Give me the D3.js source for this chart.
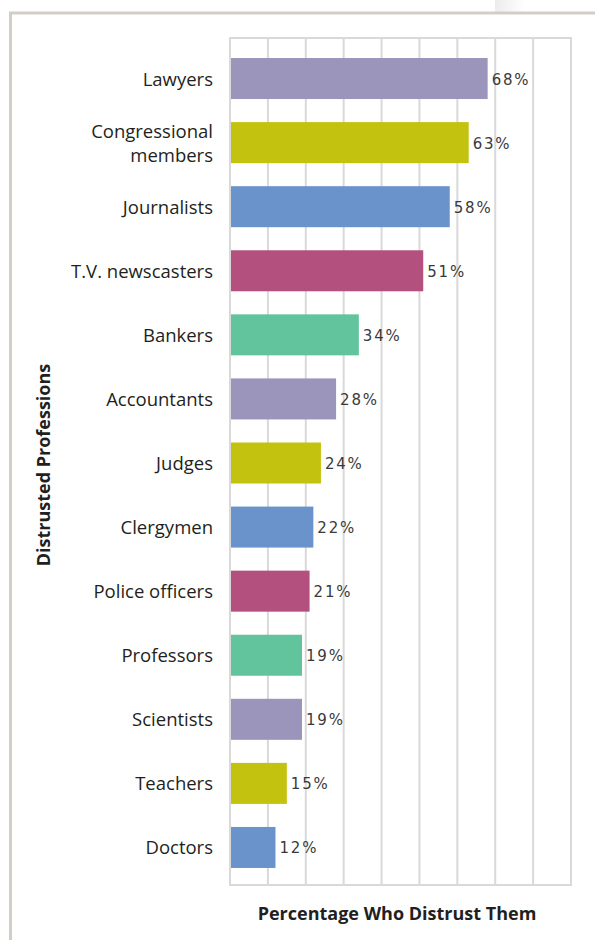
<!DOCTYPE html>
<html><head><meta charset="utf-8">
<script src="https://cdn.jsdelivr.net/npm/d3@7"></script>
<style>body{margin:0;background:#fff}svg{display:block}</style>
</head><body>
<svg id="c" width="595" height="940"></svg>
<script>
const categories = ["Lawyers","Congressional\nmembers","Journalists","T.V. newscasters","Bankers","Accountants","Judges","Clergymen","Police officers","Professors","Scientists","Teachers","Doctors"];
const values = [68,63,58,51,34,28,24,22,21,19,19,15,12];
const colors = ["#9b94bb","#c3c20e","#6a93cc","#b3507e","#62c49c"];
const xTicks = [0,10,20,30,40,50,60,70,80,90];
const xTitle = "Percentage Who Distrust Them";
const yTitle = "Distrusted Professions";

const svg = d3.select("#c");
// frame
const defs = svg.append("defs");
const g = defs.append("linearGradient").attr("id","pg");
g.append("stop").attr("offset","0").attr("stop-color","#ececec");
g.append("stop").attr("offset","1").attr("stop-color","#ffffff");
svg.append("rect").attr("x",495).attr("y",0).attr("width",30).attr("height",12).attr("fill","url(#pg)");
svg.append("path").attr("d","M10.5,940 V13 H595").attr("fill","none").attr("stroke","#d3cdc8").attr("stroke-width",3);

const x = d3.scaleLinear().domain([0,90]).range([230,571]);
const y = d3.scaleBand().domain(categories).range([46.5,879.5]).paddingInner(0.36).paddingOuter(0.18);
const plotTop = 38, plotBottom = 885;

// grid
svg.append("g").selectAll("line").data(xTicks).join("line")
  .attr("x1",d=>x(d)).attr("x2",d=>x(d)).attr("y1",plotTop).attr("y2",plotBottom)
  .attr("stroke","#d9d9d9").attr("stroke-width",2);
svg.append("line").attr("x1",229).attr("x2",572).attr("y1",plotTop).attr("y2",plotTop).attr("stroke","#d9d9d9").attr("stroke-width",2);
svg.append("line").attr("x1",229).attr("x2",572).attr("y1",plotBottom).attr("y2",plotBottom).attr("stroke","#d9d9d9").attr("stroke-width",2);

// bars
svg.append("g").selectAll("rect").data(categories).join("rect")
  .attr("x",x(0)+1).attr("y",d=>y(d)).attr("height",y.bandwidth())
  .attr("width",(d,i)=>x(values[i])-x(0)-1)
  .attr("fill",(d,i)=>colors[i%5]);

// value labels
svg.append("g").selectAll("text").data(categories).join("text")
  .attr("x",(d,i)=>x(values[i])+4).attr("y",d=>y(d)+y.bandwidth()/2+6)
  .attr("font-family","DejaVu Sans").attr("font-size",15).attr("letter-spacing",1.8)
  .attr("fill","#3a3a3a").text((d,i)=>values[i]+"%");

// category labels
const cl = svg.append("g").selectAll("text").data(categories).join("text")
  .attr("text-anchor","end").attr("font-family","Open Sans").attr("font-size",18.5)
  .attr("fill","#231f20");
cl.each(function(d){
  const lines = d.split("\n");
  const t = d3.select(this);
  const cy = y(d)+y.bandwidth()/2;
  lines.forEach((l,k)=>{
    t.append("tspan").attr("x",213).attr("y",cy+7+(k-(lines.length-1)/2)*24).text(l);
  });
});

// titles
svg.append("text").attr("x",397).attr("y",920).attr("text-anchor","middle")
  .attr("font-family","Open Sans").attr("font-weight","bold").attr("font-size",18)
  .attr("fill","#231f20").text(xTitle);
svg.append("text").attr("transform","translate(50,465) rotate(-90)").attr("text-anchor","middle")
  .attr("font-family","Open Sans").attr("font-weight","bold").attr("font-size",18)
  .attr("fill","#231f20").text(yTitle);
</script>
</body></html>
